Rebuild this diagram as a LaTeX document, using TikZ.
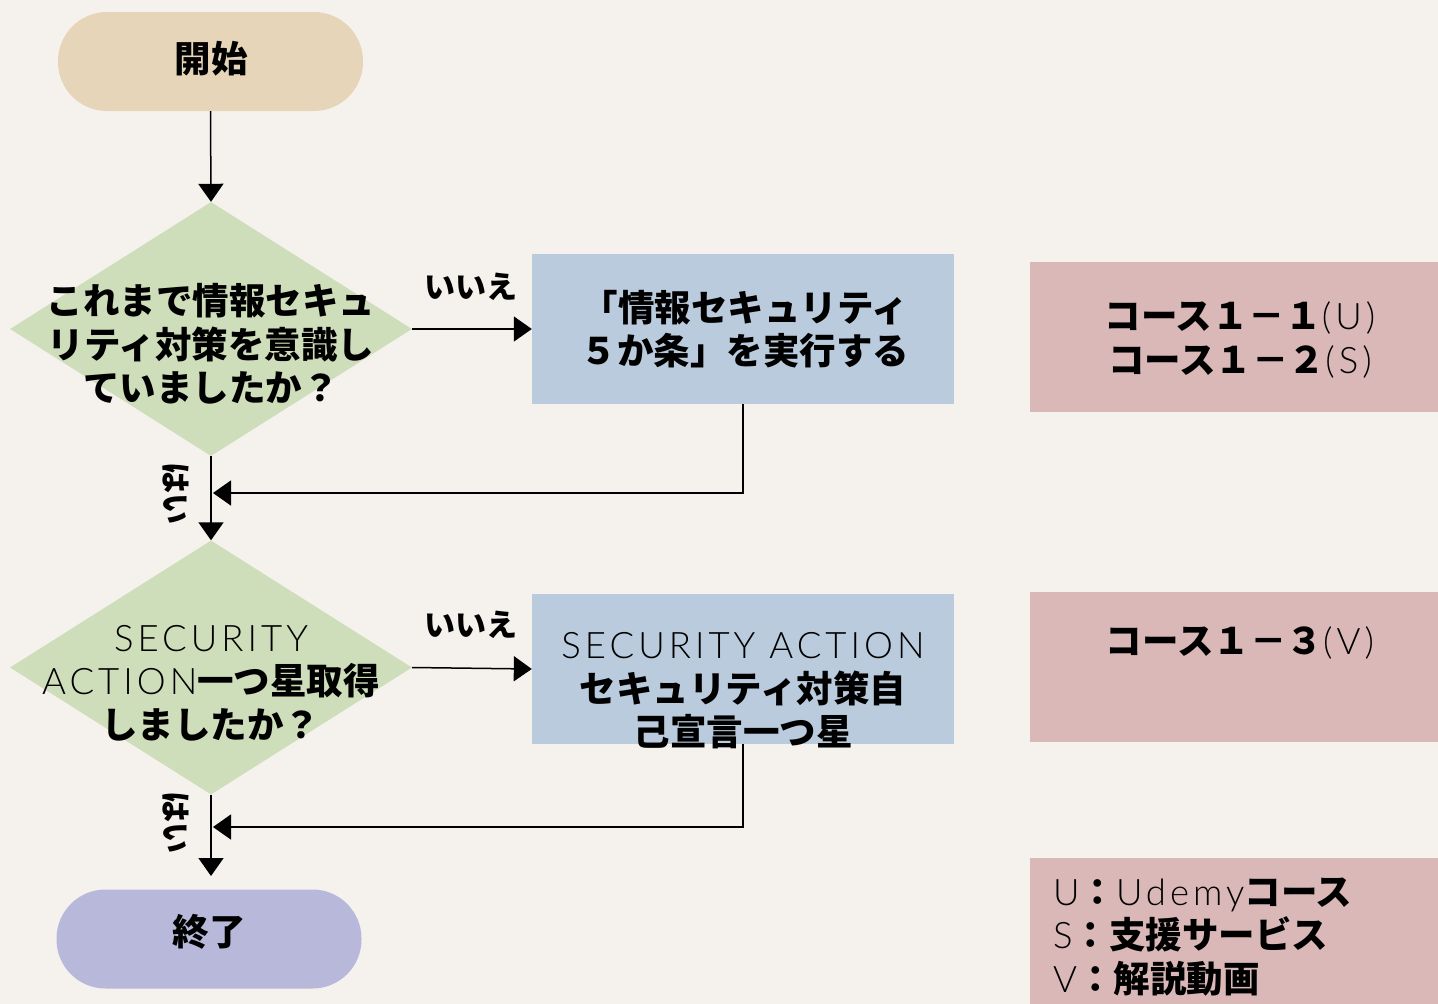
\documentclass[tikz,border=0pt]{standalone}
\usepackage{fontspec}
\newfontfamily\jp{Noto Sans CJK JP}
\newfontfamily\lt{Lato Light}[LetterSpace=11]
\usetikzlibrary{shapes.geometric,arrows.meta}
\definecolor{bgc}{HTML}{F5F2EE}
\definecolor{tanc}{HTML}{E6D5B8}
\definecolor{greenc}{HTML}{CFDEBA}
\definecolor{bluec}{HTML}{BACBDD}
\definecolor{pinkc}{HTML}{DBB8B8}
\definecolor{lavc}{HTML}{B8B8DB}
\tikzset{
  jtxt/.style={font=\jp\bfseries\fontsize{36.5}{43.5}\selectfont, align=center, text=black, inner sep=0pt},
  lbl/.style={font=\jp\bfseries\fontsize{31}{34}\selectfont, text=black, inner sep=0pt},
  pill/.style={rectangle, rounded corners=49pt, minimum width=305pt, minimum height=99pt, inner sep=0pt},
  dia/.style={diamond, fill=greenc, minimum width=402pt, minimum height=254pt, inner sep=0pt},
  boxb/.style={rectangle, fill=bluec, minimum width=422pt, minimum height=150pt, inner sep=0pt},
  boxp/.style={rectangle, fill=pinkc, minimum width=408pt, minimum height=150pt, inner sep=0pt},
  conn/.style={draw=black, line width=1.5pt, -{Triangle[length=18pt,width=25pt]}},
}
\newcommand{\lat}[1]{{\lt\mdseries #1}}
\begin{document}
\begin{tikzpicture}[x=1pt,y=-1pt]
\useasboundingbox (0,0) rectangle (1438,1004);
\fill[bgc] (0,0) rectangle (1438,1004);

% shapes
\node[pill, fill=tanc] (start) at (210.5,61.5) {};
\node[jtxt] (tstart) at (211,59) {開始};
\node[dia] (d1) at (211,329) {};
\node[jtxt] (td1) at (211,344) {これまで情報セキュ\\リティ対策を意識し\\ていましたか？};
\node[boxb] (b1) at (743,329) {};
\node[jtxt] (tb1) at (745,329) {「情報セキュリティ\\５か条」を実行する};
\node[dia] (d2) at (211,667.5) {};
\node[jtxt] (td2) at (211,683) {\lat{SECURITY}\\\lat{ACTION}一つ星取得\\しましたか？};
\node[boxb] (b2) at (743,669) {};
\node[jtxt] (tb2) at (743,691) {\lat{SECURITY ACTION}\\セキュリティ対策自\\己宣言一つ星};
\node[pill, fill=lavc] (end) at (209,939) {};
\node[jtxt] (tend) at (209,932) {終了};

\node[boxp] (p1) at (1234,336.5) {};
\node[jtxt] (tp1) at (1240,340) {コース１－１\lat{(U)}\\コース１－２\lat{(S)}};
\node[boxp] (p2) at (1234,667) {};
\node[jtxt] (tp2) at (1240,643) {コース１－３\lat{(V)}};
\node[boxp, minimum height=146pt] (p3) at (1234,931) {};
\node[jtxt, align=left, anchor=west] (tp3) at (1053,937) {\lat{U}：\lat{Udemy}コース\\\lat{S}：支援サービス\\\lat{V}：解説動画};

% connectors
\draw[conn] (start.south) -- (d1.north);
\draw[conn] (d1.east) -- (b1.west);
\node[lbl] (no1) at (471,287) {いいえ};
\draw[conn] (d1.south) -- (d2.north);
\node[lbl, rotate=-90] (yes1) at (176,493) {はい};
\coordinate (m1) at (213,493);
\draw[conn] (b1.south) |- (m1);

\draw[conn] (d2.east) -- (b2.west);
\node[lbl] (no2) at (471,625) {いいえ};
\coordinate (e1) at (211,876);
\draw[conn] (d2.south) -- (e1);
\node[lbl, rotate=-90] (yes2) at (176,822) {はい};
\coordinate (m2) at (213,827);
\draw[conn] (b2.south) |- (m2);
\end{tikzpicture}
\end{document}
